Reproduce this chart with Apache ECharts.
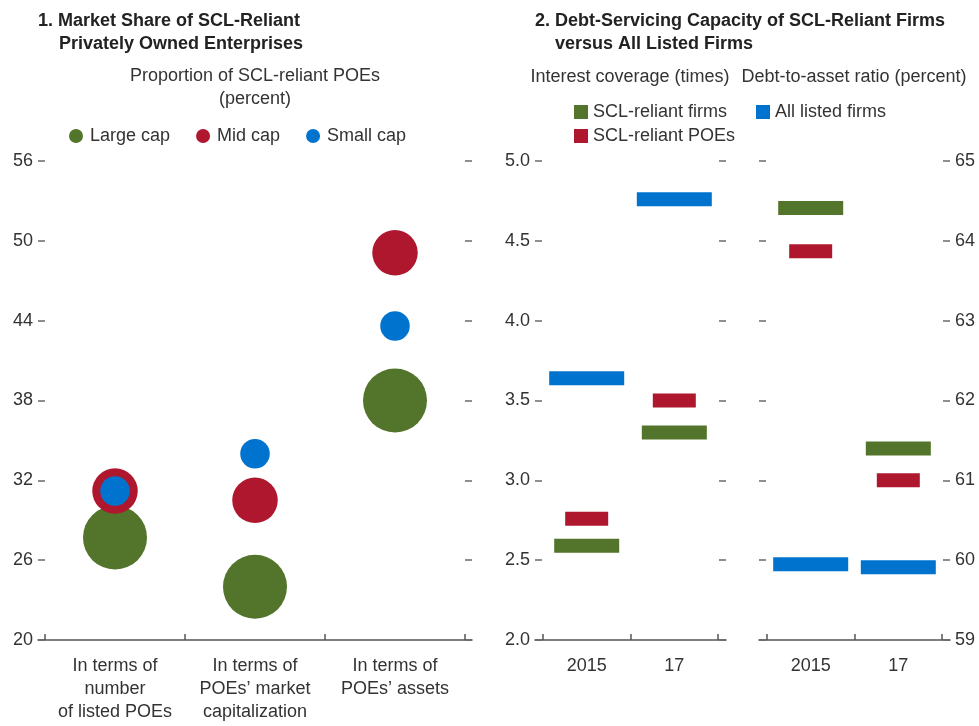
<!DOCTYPE html>
<html>
<head>
<meta charset="utf-8">
<script src="https://cdn.jsdelivr.net/npm/echarts@6/dist/echarts.min.js"></script>
<style>
html,body{margin:0;padding:0;background:#fff;}
#c{width:979px;height:726px;}
</style>
</head>
<body>
<div id="c"></div>
<script>
// ---- data ----
const shareCategories = ['In terms of\nnumber\nof listed POEs', 'In terms of\nPOEs\u2019 market\ncapitalization', 'In terms of\nPOEs\u2019 assets'];
const largeCap = [27.7, 24.0, 38.0];
const midCap = [31.2, 30.5, 49.1];
const smallCap = [31.2, 34.0, 43.6];
const shareTicks = [20, 26, 32, 38, 44, 50, 56];

const years = ['2015', '17'];
const icSclFirms = [2.59, 3.30];
const icSclPoes = [2.76, 3.50];
const icAllFirms = [3.64, 4.76];
const daSclFirms = [64.41, 61.40];
const daSclPoes = [63.87, 61.00];
const daAllFirms = [59.95, 59.91];

// ---- styles ----
const FONT = "'Liberation Sans',Arial,sans-serif";
const GREEN = '#52752b', RED = '#ae172e', BLUE = '#0073cf';
const TXT = '#333333', TICK = '#6a6a6a', AX = '#555555';

const chart = echarts.init(document.getElementById('c'), null, {renderer: 'canvas'});

function yAx(grid, pos, min, max, interval, showLabel, fmt) {
  return {
    type: 'value', gridIndex: grid, position: pos, min: min, max: max, interval: interval,
    axisLine: {show: false, onZero: false},
    axisTick: {show: true, inside: true, length: 7, lineStyle: {color: TICK, width: 1.5}},
    splitLine: {show: false},
    axisLabel: {show: showLabel, margin: 5, color: TXT, fontSize: 18, fontFamily: FONT,
      formatter: fmt || (v => String(v))}
  };
}
function xAx(grid, min, max, tickVals, labelVals, names) {
  return {
    type: 'value', gridIndex: grid, min: min, max: max,
    axisLine: {show: true, onZero: false, lineStyle: {color: AX, width: 1.5}},
    axisTick: {show: true, inside: true, length: 6, customValues: tickVals, lineStyle: {color: AX, width: 1.5}},
    splitLine: {show: false},
    axisLabel: {customValues: labelVals, margin: 15, color: TXT, fontSize: 18, lineHeight: 23, fontFamily: FONT,
      formatter: v => names[Math.round(v)]}
  };
}
const idx = a => a.map((v, i) => [i, v]);
const titleStyle = {fontSize: 18, fontWeight: 'bold', color: '#222', fontFamily: FONT};
const subStyle = (t) => ({text: t, align: 'center', textAlign: 'center', verticalAlign: 'top', fill: TXT, fontSize: 18, lineHeight: 23, fontFamily: FONT});

const option = {
  animation: false,
  backgroundColor: '#fff',
  textStyle: {fontFamily: FONT},
  title: [
    {text: '1. Market Share of SCL-Reliant', left: 33, top: 7, textStyle: titleStyle},
    {text: 'Privately Owned Enterprises', left: 54, top: 30, textStyle: titleStyle},
    {text: '2. Debt-Servicing Capacity of SCL-Reliant Firms', left: 530, top: 7, textStyle: titleStyle},
    {text: 'versus All Listed Firms', left: 550, top: 30, textStyle: titleStyle}
  ],
  graphic: [
    {type: 'text', x: 255, y: 65, style: subStyle('Proportion of SCL-reliant POEs\n(percent)')},
    {type: 'text', x: 630, y: 66, style: subStyle('Interest coverage (times)')},
    {type: 'text', x: 854, y: 66, style: subStyle('Debt-to-asset ratio (percent)')}
  ],
  legend: [
    {data: ['Large cap', 'Mid cap', 'Small cap'], left: 64, top: 122, icon: 'circle', itemWidth: 14, itemHeight: 14, itemGap: 26,
      textStyle: {fontSize: 18, color: TXT, fontFamily: FONT, padding: [0, 0, 0, 2]}, selectedMode: false},
    {data: ['SCL-reliant firms', 'SCL-reliant POEs'], orient: 'vertical', left: 569, top: 98, icon: 'rect', itemWidth: 14, itemHeight: 14, itemGap: 6,
      textStyle: {fontSize: 18, color: TXT, fontFamily: FONT}, selectedMode: false},
    {data: ['All listed firms'], left: 751, top: 98, icon: 'rect', itemWidth: 14, itemHeight: 14,
      textStyle: {fontSize: 18, color: TXT, fontFamily: FONT}, selectedMode: false}
  ],
  grid: [
    {left: 38, top: 161, width: 434, height: 479},
    {left: 535, top: 161, width: 191, height: 479},
    {left: 759, top: 161, width: 191, height: 479}
  ],
  xAxis: [
    xAx(0, -0.55, 2.55, [-0.5, 0.5, 1.5, 2.5], [0, 1, 2], shareCategories),
    xAx(1, -0.59, 1.59, [-0.5, 0.5, 1.5], [0, 1], years),
    xAx(2, -0.59, 1.59, [-0.5, 0.5, 1.5], [0, 1], years)
  ],
  yAxis: [
    yAx(0, 'left', shareTicks[0], shareTicks[shareTicks.length - 1], 6, true),
    yAx(0, 'right', shareTicks[0], shareTicks[shareTicks.length - 1], 6, false),
    yAx(1, 'left', 2.0, 5.0, 0.5, true, v => v.toFixed(1)),
    yAx(1, 'right', 2.0, 5.0, 0.5, false),
    yAx(2, 'left', 59, 65, 1, false),
    yAx(2, 'right', 59, 65, 1, true)
  ],
  series: [
    {name: 'Large cap', type: 'scatter', xAxisIndex: 0, yAxisIndex: 0, data: idx(largeCap), symbol: 'circle', symbolSize: 64, itemStyle: {color: GREEN, opacity: 1}, z: 2},
    {name: 'Mid cap', type: 'scatter', xAxisIndex: 0, yAxisIndex: 0, data: idx(midCap), symbol: 'circle', symbolSize: 45.5, itemStyle: {color: RED, opacity: 1}, z: 3},
    {name: 'Small cap', type: 'scatter', xAxisIndex: 0, yAxisIndex: 0, data: idx(smallCap), symbol: 'circle', symbolSize: 29.5, itemStyle: {color: BLUE, opacity: 1}, z: 4},

    {name: 'SCL-reliant firms', type: 'scatter', xAxisIndex: 1, yAxisIndex: 2, data: idx(icSclFirms), symbol: 'rect', symbolSize: [65, 14], itemStyle: {color: GREEN, opacity: 1}},
    {name: 'SCL-reliant POEs', type: 'scatter', xAxisIndex: 1, yAxisIndex: 2, data: idx(icSclPoes), symbol: 'rect', symbolSize: [43, 14], itemStyle: {color: RED, opacity: 1}},
    {name: 'All listed firms', type: 'scatter', xAxisIndex: 1, yAxisIndex: 2, data: idx(icAllFirms), symbol: 'rect', symbolSize: [75, 14], itemStyle: {color: BLUE, opacity: 1}},

    {name: 'SCL-reliant firms', type: 'scatter', xAxisIndex: 2, yAxisIndex: 5, data: idx(daSclFirms), symbol: 'rect', symbolSize: [65, 14], itemStyle: {color: GREEN, opacity: 1}},
    {name: 'SCL-reliant POEs', type: 'scatter', xAxisIndex: 2, yAxisIndex: 5, data: idx(daSclPoes), symbol: 'rect', symbolSize: [43, 14], itemStyle: {color: RED, opacity: 1}},
    {name: 'All listed firms', type: 'scatter', xAxisIndex: 2, yAxisIndex: 5, data: idx(daAllFirms), symbol: 'rect', symbolSize: [75, 14], itemStyle: {color: BLUE, opacity: 1}}
  ]
};
chart.setOption(option);
</script>
</body>
</html>
